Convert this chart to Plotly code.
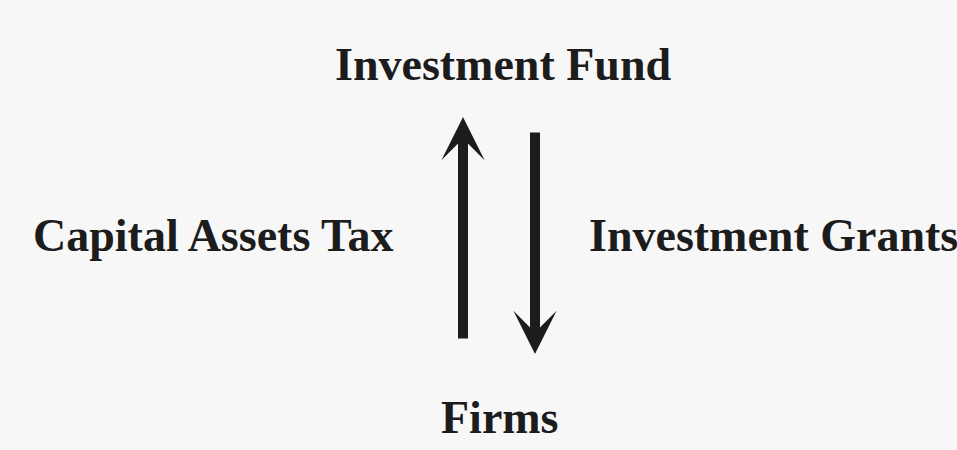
import plotly.graph_objects as go

# diagram content, laid out on a 957 x 450 pixel canvas (y grows downward)
labels = ["Investment Fund", "Capital Assets Tax", "Investment Grants", "Firms"]
label_x = [503, 213, 587, 500]
label_y = [64, 235, 235, 417]
label_anchor = ["center", "center", "left", "center"]

# arrows: tail -> tip
arrow_tail_x = [463, 535]
arrow_tail_y = [340, 131]
arrow_tip_x = [463, 535]
arrow_tip_y = [117, 354]

W, H = 957, 450
ink = "#1c1c1c"
font = dict(family="Liberation Serif, Times New Roman, serif", size=46, color=ink)

fig = go.Figure()

for txt, x, y, anc in zip(labels, label_x, label_y, label_anchor):
    fig.add_annotation(
        x=x, y=y, text="<b>%s</b>" % txt, showarrow=False,
        xanchor=anc, yanchor="middle", font=font,
    )

for tx, ty, hx, hy in zip(arrow_tail_x, arrow_tail_y, arrow_tip_x, arrow_tip_y):
    fig.add_annotation(
        x=hx, y=hy, ax=tx, ay=ty, xref="x", yref="y", axref="x", ayref="y",
        text="", showarrow=True, arrowhead=3, arrowsize=0.72,
        arrowwidth=10, arrowcolor=ink, standoff=0,
    )

fig.update_xaxes(range=[0, W], visible=False, fixedrange=True)
fig.update_yaxes(range=[H, 0], visible=False, fixedrange=True)
fig.update_layout(
    width=W, height=H,
    margin=dict(l=0, r=0, t=0, b=0),
    paper_bgcolor="#f7f7f7",
    plot_bgcolor="#f7f7f7",
    showlegend=False,
)

fig.write_html(
    "out.html",
    config={"displayModeBar": False},
    post_script="document.body.style.margin='0';document.body.style.background='#f7f7f7';",
)
